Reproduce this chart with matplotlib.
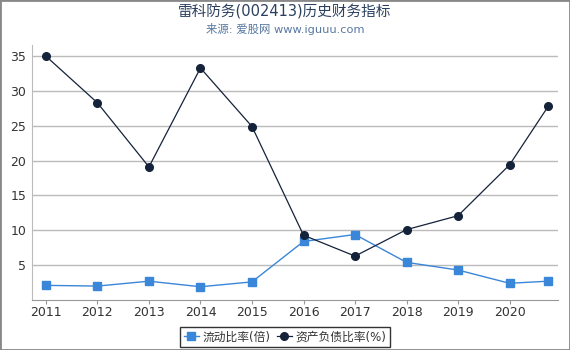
import matplotlib
matplotlib.use('Agg')
import matplotlib.pyplot as plt

plt.rcParams['font.family'] = ['DejaVu Sans', 'Noto Sans CJK SC']

# data
years = [2011, 2012, 2013, 2014, 2015, 2016, 2017, 2018, 2019, 2020, 2020.75]
current_ratio = [2.1, 2.0, 2.7, 1.9, 2.6, 8.4, 9.4, 5.4, 4.3, 2.4, 2.7]
debt_ratio = [35.0, 28.3, 19.1, 33.3, 24.9, 9.3, 6.3, 10.1, 12.1, 19.4, 27.8]
xticks = [2011, 2012, 2013, 2014, 2015, 2016, 2017, 2018, 2019, 2020]
yticks = [5, 10, 15, 20, 25, 30, 35]

fig = plt.figure(figsize=(5.7, 3.5), dpi=100)
ax = fig.add_axes([32/570, 1-300/350, (558-32)/570, (300-45)/350])

ax.plot(years, current_ratio, color='#3a86d8', marker='s', markersize=5.5,
        linewidth=1, label='流动比率(倍)')
ax.plot(years, debt_ratio, color='#14233a', marker='o', markersize=5.5,
        linewidth=0.9, label='资产负债比率(%)')

ax.set_xlim(2010.73, 2020.94)
ax.set_ylim(0, 36.6)
ax.set_xticks(xticks)
ax.set_xticklabels([str(y) for y in xticks])
ax.set_yticks(yticks)
ax.grid(axis='y', color='#bbbbbb', linewidth=1)
ax.set_axisbelow(True)
for s in ['top', 'right']:
    ax.spines[s].set_visible(False)
ax.spines['left'].set_color('#bbbbbb')
ax.spines['bottom'].set_color('#999999')
ax.tick_params(axis='y', length=0, labelsize=9, colors='#333333', pad=4)
ax.tick_params(axis='x', length=3, color='#999999', labelsize=9, colors='#333333', pad=1)

fig.text(0.5, 0.965, '雷科防务(002413)历史财务指标', ha='center', va='center',
         fontsize=10.5, color='#2a3f5f')
fig.text(0.5, 0.918, '来源: 爱股网 www.iguuu.com', ha='center', va='center',
         fontsize=8.2, color='#5878a0')

leg = fig.legend(loc='center', bbox_to_anchor=(285/570, 1-337/350), ncol=2,
                 fontsize=8.5, frameon=True, fancybox=False, handlelength=1.3,
                 handletextpad=0.3, columnspacing=0.5, borderpad=0.3)
leg.get_frame().set_edgecolor('black')
leg.get_frame().set_linewidth(1)
for t in leg.get_texts():
    t.set_color('#333333')

# outer grey border
fig.patches.append(plt.Rectangle((0, 0), 1, 1, transform=fig.transFigure,
                                 fill=False, edgecolor='#888888', linewidth=2))

fig.savefig('out.png', dpi=100)
